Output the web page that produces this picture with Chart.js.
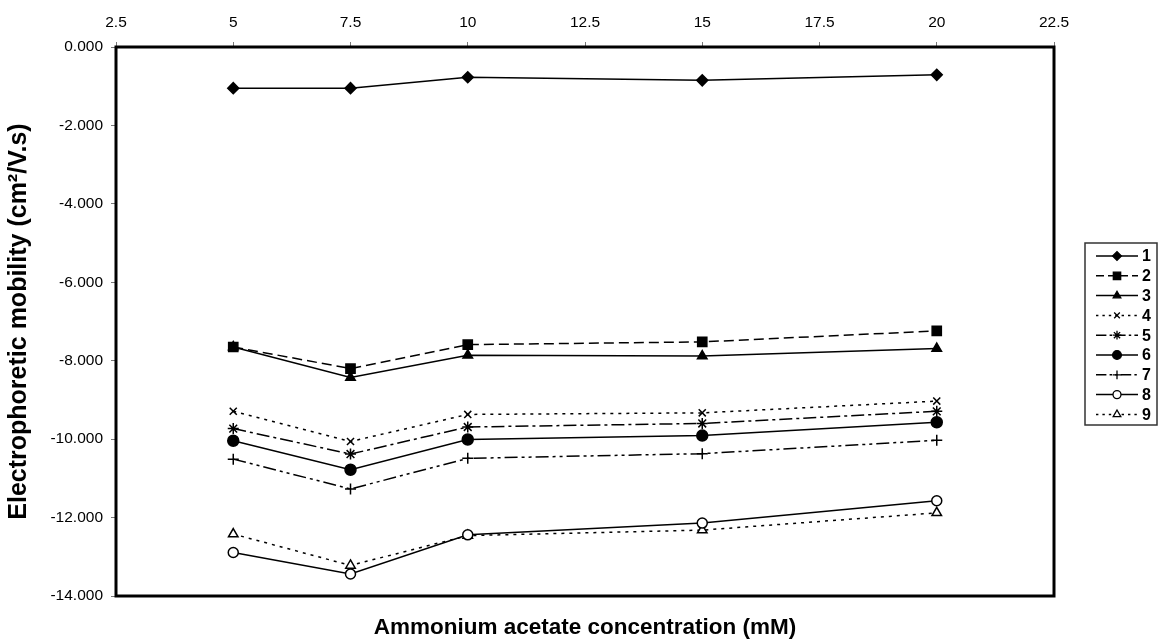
<!DOCTYPE html>
<html><head><meta charset="utf-8">
<script src="https://cdn.jsdelivr.net/npm/chart.js@4/dist/chart.umd.min.js"></script>
<style>html,body{margin:0;padding:0;background:#fff}#wrap{width:1158px;height:642px}</style>
</head><body><div id="wrap"><canvas id="c" width="1158" height="642"></canvas></div>
<script>
// ---- data ----
const concentrations = [5, 7.5, 10, 15, 20];
const xTickValues = [2.5, 5, 7.5, 10, 12.5, 15, 17.5, 20, 22.5];
const yTickValues = [0, -2, -4, -6, -8, -10, -12, -14];
const seriesNames = ['1', '2', '3', '4', '5', '6', '7', '8', '9'];
const s1 = [-1.05, -1.05, -0.77, -0.85, -0.71];
const s2 = [-7.65, -8.20, -7.59, -7.52, -7.24];
const s3 = [-7.65, -8.43, -7.86, -7.88, -7.69];
const s4 = [-9.29, -10.06, -9.37, -9.33, -9.03];
const s5 = [-9.73, -10.38, -9.69, -9.60, -9.29];
const s6 = [-10.04, -10.78, -10.01, -9.91, -9.57];
const s7 = [-10.51, -11.27, -10.49, -10.37, -10.03];
const s8 = [-12.89, -13.44, -12.44, -12.14, -11.57];
const s9 = [-12.42, -13.22, -12.46, -12.32, -11.88];
const seriesValues = [s1, s2, s3, s4, s5, s6, s7, s8, s9];

// ---- styles ----
const styles = [
  {ps: 'rectRot', r: 5.5, fill: '#000', dash: []},
  {ps: 'rect', r: 6.5, fill: '#000', dash: [10, 5]},
  {ps: 'triangle', r: 5.5, fill: '#000', dash: []},
  {ps: 'crossRot', r: 5, fill: '#000', dash: [3, 5]},
  {ps: 'star', r: 5.5, fill: '#000', dash: [13, 4, 3, 4]},
  {ps: 'circle', r: 5.5, fill: '#000', dash: []},
  {ps: 'cross', r: 5.5, fill: '#000', dash: [13, 4, 3, 4, 3, 4]},
  {ps: 'circle', r: 5, fill: '#fff', dash: []},
  {ps: 'triangle', r: 5.5, fill: '#fff', dash: [3, 5]}
];

const datasets = seriesValues.map((vals, i) => ({
  label: seriesNames[i],
  data: concentrations.map((x, j) => ({x: x, y: vals[j]})),
  borderColor: '#000',
  borderWidth: 1.5,
  borderDash: styles[i].dash,
  pointStyle: styles[i].ps,
  pointRadius: styles[i].r,
  pointBackgroundColor: styles[i].fill,
  pointBorderColor: '#000',
  pointBorderWidth: 1.5,
  tension: 0,
  fill: false,
  clip: false
}));

const font = 'Liberation Sans, Arial, sans-serif';

const framePlugin = {
  id: 'frame',
  beforeDatasetsDraw(chart) {
    const {ctx, chartArea: a} = chart;
    ctx.save();
    ctx.strokeStyle = '#000';
    ctx.lineWidth = 3;
    ctx.strokeRect(a.left, a.top, a.right - a.left, a.bottom - a.top);
    ctx.restore();
  }
};

function drawMarker(ctx, st, x, y, r) {
  ctx.save();
  ctx.setLineDash([]);
  ctx.lineWidth = 1.3;
  ctx.strokeStyle = '#000';
  ctx.fillStyle = st.fill;
  if (Chart.helpers && Chart.helpers.drawPoint) {
    Chart.helpers.drawPoint(ctx, {pointStyle: st.ps, radius: r, rotation: 0, borderWidth: 1.3}, x, y);
  }
  ctx.restore();
}

const legendPlugin = {
  id: 'customLegend',
  afterDraw(chart) {
    const ctx = chart.ctx;
    const bx = 1085, by = 243, bw = 72, bh = 182;
    ctx.save();
    ctx.strokeStyle = '#333';
    ctx.lineWidth = 1.5;
    ctx.strokeRect(bx, by, bw, bh);
    for (let i = 0; i < seriesNames.length; i++) {
      const y = 256 + i * 19.8;
      const st = styles[i];
      ctx.save();
      ctx.strokeStyle = '#000';
      ctx.lineWidth = 1.5;
      ctx.setLineDash(st.dash.map(v => v * 0.8));
      ctx.beginPath();
      ctx.moveTo(1096, y);
      ctx.lineTo(1138, y);
      ctx.stroke();
      ctx.restore();
      drawMarker(ctx, st, 1117, y, st.r * 0.8);
      ctx.fillStyle = '#000';
      ctx.font = 'bold 16px ' + font;
      ctx.textAlign = 'left';
      ctx.textBaseline = 'middle';
      ctx.fillText(seriesNames[i], 1142, y + 1);
    }
    ctx.restore();
  }
};

new Chart(document.getElementById('c'), {
  type: 'line',
  data: {datasets: datasets},
  options: {
    responsive: false,
    animation: false,
    layout: {padding: {left: 0, top: 0, bottom: 0, right: 104}},
    plugins: {legend: {display: false}, tooltip: {enabled: false}},
    scales: {
      x: {
        type: 'linear',
        position: 'top',
        min: 2.5, max: 22.5,
        afterBuildTicks: s => { s.ticks = xTickValues.map(v => ({value: v})); },
        ticks: {
          color: '#000', font: {family: font, size: 15.5}, padding: 10,
          maxRotation: 0, autoSkip: false,
          callback: v => String(v)
        },
        grid: {drawOnChartArea: false, drawTicks: true, tickLength: 5, color: '#777', lineWidth: 1},
        border: {display: false},
        afterFit: s => { s.height = 47; }
      },
      x2: {
        type: 'linear',
        axis: 'x',
        position: 'bottom',
        min: 2.5, max: 22.5,
        ticks: {display: false},
        grid: {display: false, drawTicks: false},
        border: {display: false},
        title: {display: true, text: 'Ammonium acetate concentration (mM)', color: '#000',
          font: {family: font, size: 22.5, weight: 'bold'}, padding: {top: 0, bottom: 1}},
        afterFit: s => { s.height = 46; }
      },
      y: {
        type: 'linear',
        position: 'left',
        min: -14, max: 0,
        afterBuildTicks: s => { s.ticks = yTickValues.map(v => ({value: v})); },
        ticks: {
          color: '#000', font: {family: font, size: 15.5}, padding: 8,
          autoSkip: false,
          callback: v => (Math.abs(v) < 1e-9 ? 0 : v).toFixed(3)
        },
        grid: {drawOnChartArea: false, drawTicks: true, tickLength: 5, color: '#777', lineWidth: 1},
        border: {display: false},
        title: {display: true, text: 'Electrophoretic mobility (cm²/V.s)', color: '#000',
          font: {family: font, size: 25, weight: 'bold'}, padding: {top: 4, bottom: 0}},
        afterFit: s => { s.width = 116; }
      }
    }
  },
  plugins: [framePlugin, legendPlugin]
});
</script>
</body></html>
